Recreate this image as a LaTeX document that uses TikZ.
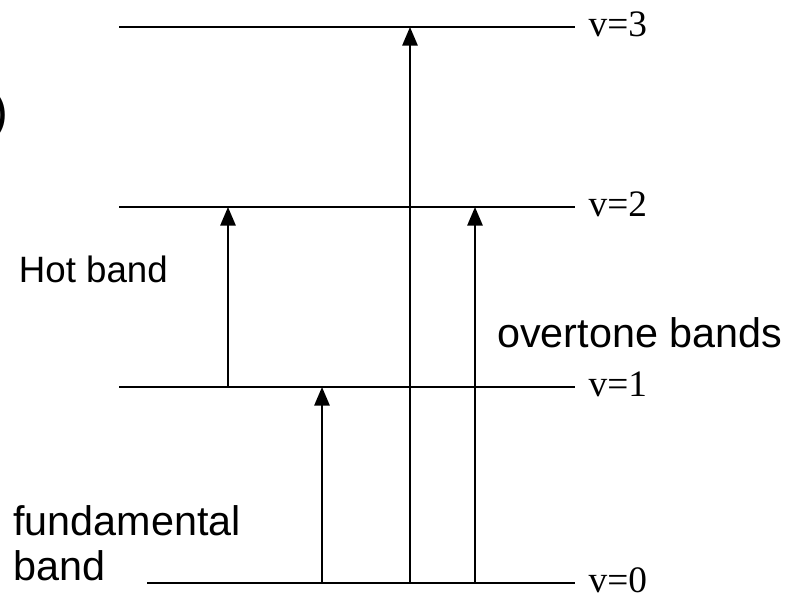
\documentclass[tikz,border=0pt]{standalone}
\usepackage{fontspec}
\setmainfont{Liberation Sans}
\newfontfamily\levelfont{Liberation Serif}
\usetikzlibrary{arrows.meta, positioning}
\tikzset{
  >={Triangle[length=14pt, width=11.5pt]},
  level/.style={line width=1.4pt},
  trans/.style={->, line width=1.4pt},
  vlabel/.style={font=\levelfont\fontsize{28}{30}\selectfont, inner sep=0pt, yshift=2pt},
  blabel/.style={font=\fontsize{31}{34}\selectfont, align=left, inner sep=0pt},
  hlabel/.style={font=\fontsize{27.5}{30}\selectfont, inner sep=0pt},
}

\begin{document}
\begin{tikzpicture}[x=0.75pt, y=-0.75pt]
  \useasboundingbox (0,0) rectangle (794,595);

  % ---- Vibrational levels ------------------------------------------------
  \coordinate (v3l) at (119,27);  \coordinate (v3r) at (575,27);
  \coordinate (v2l) at (119,207); \coordinate (v2r) at (575,207);
  \coordinate (v1l) at (119,387); \coordinate (v1r) at (575,387);
  \coordinate (v0l) at (147,583); \coordinate (v0r) at (575,583);

  \draw[level] (v3l) -- (v3r);
  \draw[level] (v2l) -- (v2r);
  \draw[level] (v1l) -- (v1r);
  \draw[level] (v0l) -- (v0r);

  \node[vlabel, right=10pt of v3r] (lab3) {v=3};
  \node[vlabel, right=10pt of v2r] (lab2) {v=2};
  \node[vlabel, right=10pt of v1r] (lab1) {v=1};
  \node[vlabel, right=10pt of v0r] (lab0) {v=0};

  % ---- Transitions -------------------------------------------------------
  \coordinate (hotlo)  at (228,387); \coordinate (hothi)  at (228,207);
  \coordinate (fundlo) at (322,583); \coordinate (fundhi) at (322,387);
  \coordinate (ov3lo)  at (410,583); \coordinate (ov3hi)  at (410,27);
  \coordinate (ov2lo)  at (475,583); \coordinate (ov2hi)  at (475,207);

  \draw[trans] (hotlo) -- (hothi);
  \draw[trans] (fundlo) -- (fundhi);
  \draw[trans] (ov3lo) -- (ov3hi);
  \draw[trans] (ov2lo) -- (ov2hi);

  % ---- Band names --------------------------------------------------------
  \node[hlabel, anchor=east] (hot) at (168,269) {Hot band};
  \node[blabel, anchor=west] (over) at (497,333) {overtone bands};
  \node[blabel, anchor=north west] (fund) at (13,505) {fundamental\\band};
  \node[blabel, font=\fontsize{38}{40}\selectfont, anchor=east] (paren) at (9,115) {)};

\end{tikzpicture}
\end{document}
